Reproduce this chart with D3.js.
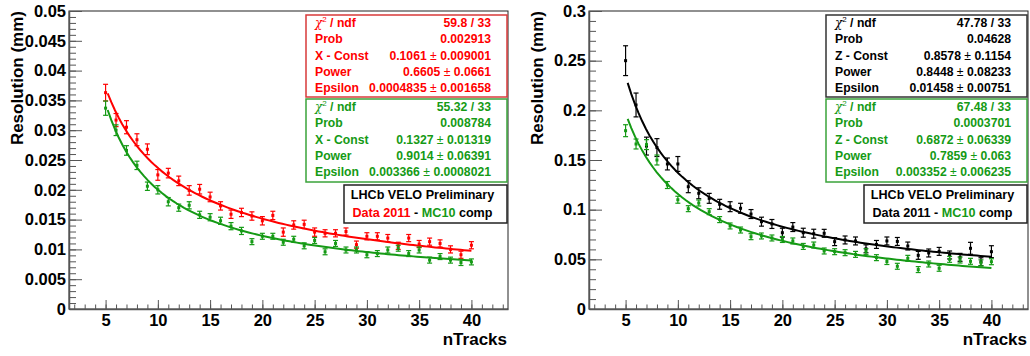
<!DOCTYPE html>
<html>
<head>
<meta charset="utf-8">
<script src="https://cdn.jsdelivr.net/npm/d3@7"></script>
<style>
  html, body { margin: 0; padding: 0; background: #fff; }
  svg { display: block; }
  text { font-family: "Liberation Sans", Arial, Helvetica, sans-serif; font-weight: bold; }
</style>
</head>
<body>
<svg id="chart" width="1030" height="356"></svg>
<script>
// Track multiplicity bins
const nTracks = [5, 6, 7, 8, 9, 10, 11, 12, 13, 14, 15, 16, 17, 18, 19, 20, 21, 22,
                 23, 24, 25, 26, 27, 28, 29, 30, 31, 32, 33, 34, 35, 36, 37, 38, 39, 40];

// X resolution (mm), Data 2011
const xResData = [0.0363, 0.0317, 0.0305, 0.0284, 0.0268, 0.0225, 0.0228, 0.0215, 0.0199, 0.0201,
                  0.0188, 0.0173, 0.0159, 0.0162, 0.0156, 0.0148, 0.0157, 0.0129, 0.0141, 0.0142,
                  0.0129, 0.0127, 0.0127, 0.0130, 0.0108, 0.0122, 0.0122, 0.0119, 0.0106, 0.0119,
                  0.0109, 0.0113, 0.0110, 0.0100, 0.0091, 0.0107];
const xResDataErr = [0.0014, 0.0011, 0.0011, 0.0010, 0.0009, 0.0009, 0.0008, 0.0008, 0.0008, 0.0008,
                     0.0008, 0.0007, 0.0007, 0.0007, 0.0007, 0.0007, 0.0007, 0.0007, 0.0007, 0.0007,
                     0.0007, 0.0006, 0.0006, 0.0006, 0.0006, 0.0006, 0.0006, 0.0006, 0.0006, 0.0006,
                     0.0006, 0.0006, 0.0006, 0.0006, 0.0006, 0.0006];
// X resolution (mm), MC10
const xResMC = [0.0337, 0.0300, 0.0266, 0.0241, 0.0206, 0.0200, 0.0180, 0.0170, 0.0174, 0.0158,
                0.0154, 0.0148, 0.0139, 0.0131, 0.0113, 0.0122, 0.0122, 0.0112, 0.0117, 0.0106,
                0.0115, 0.0096, 0.0110, 0.0099, 0.0099, 0.0091, 0.0093, 0.0099, 0.0102, 0.0093,
                0.0099, 0.0082, 0.0088, 0.0082, 0.0078, 0.0079];
const xResMCErr = [0.0012, 0.0009, 0.0008, 0.0007, 0.0007, 0.0007, 0.0007, 0.0006, 0.0006, 0.0006,
                   0.0006, 0.0006, 0.0006, 0.0006, 0.0005, 0.0005, 0.0005, 0.0005, 0.0005, 0.0005,
                   0.0005, 0.0005, 0.0005, 0.0005, 0.0005, 0.0005, 0.0005, 0.0005, 0.0005, 0.0005,
                   0.0005, 0.0005, 0.0005, 0.0005, 0.0005, 0.0005];

// Z resolution (mm), Data 2011
const zResData = [0.2500, 0.2054, 0.1640, 0.1625, 0.1460, 0.1460, 0.1231, 0.1165, 0.1114, 0.1054,
                  0.1030, 0.1014, 0.0956, 0.0879, 0.0856, 0.0768, 0.0825, 0.0768, 0.0758, 0.0762,
                  0.0678, 0.0695, 0.0685, 0.0606, 0.0650, 0.0685, 0.0680, 0.0634, 0.0540, 0.0564,
                  0.0580, 0.0544, 0.0520, 0.0611, 0.0476, 0.0577];
const zResDataErr = [0.0150, 0.0120, 0.0090, 0.0090, 0.0060, 0.0075, 0.0060, 0.0055, 0.0050, 0.0050,
                     0.0050, 0.0050, 0.0045, 0.0045, 0.0045, 0.0045, 0.0045, 0.0045, 0.0045, 0.0040,
                     0.0040, 0.0040, 0.0040, 0.0040, 0.0040, 0.0040, 0.0040, 0.0040, 0.0040, 0.0040,
                     0.0040, 0.0040, 0.0040, 0.0060, 0.0040, 0.0060];
// Z resolution (mm), MC10
const zResMC = [0.1795, 0.1661, 0.1655, 0.1500, 0.1248, 0.1100, 0.1010, 0.1067, 0.0980, 0.0900,
                0.0836, 0.0795, 0.0728, 0.0735, 0.0715, 0.0700, 0.0685, 0.0630, 0.0644, 0.0584,
                0.0577, 0.0567, 0.0550, 0.0577, 0.0517, 0.0478, 0.0430, 0.0510, 0.0397, 0.0453,
                0.0410, 0.0500, 0.0493, 0.0480, 0.0465, 0.0476];
const zResMCErr = [0.0060, 0.0050, 0.0050, 0.0050, 0.0035, 0.0035, 0.0030, 0.0030, 0.0030, 0.0030,
                   0.0030, 0.0030, 0.0030, 0.0030, 0.0030, 0.0030, 0.0030, 0.0030, 0.0030, 0.0030,
                   0.0030, 0.0030, 0.0030, 0.0030, 0.0030, 0.0030, 0.0030, 0.0030, 0.0030, 0.0030,
                   0.0030, 0.0030, 0.0030, 0.0030, 0.0030, 0.0030];

// Fit results: sigma(n) = Const / n^Power + Epsilon
const fitXData = [0.1061, 0.6605, 0.0004835];
const fitXDataErr = [0.009001, 0.0661, 0.001658];
const fitXDataChi2 = [59.8, 33], fitXDataProb = "0.002913";
const fitXMC = [0.1327, 0.9014, 0.003366];
const fitXMCErr = [0.01319, 0.06391, 0.0008021];
const fitXMCChi2 = [55.32, 33], fitXMCProb = "0.008784";
const fitZData = [0.8578, 0.8448, 0.01458];
const fitZDataErr = [0.1154, 0.08233, 0.00751];
const fitZDataChi2 = [47.78, 33], fitZDataProb = "0.04628";
const fitZMC = [0.6872, 0.7859, 0.003352];
const fitZMCErr = [0.06339, 0.063, 0.006235];
const fitZMCChi2 = [67.48, 33], fitZMCProb = "0.0003701";
const fitRange = [5.2, 40];

// Axis ticks
const xDomain = [1.5, 43.5];
const xMajorTicks = [5, 10, 15, 20, 25, 30, 35, 40];
const xMinorTicks = [2, 3, 4, 5, 6, 7, 8, 9, 10, 11, 12, 13, 14, 15, 16, 17, 18, 19, 20, 21, 22,
                     23, 24, 25, 26, 27, 28, 29, 30, 31, 32, 33, 34, 35, 36, 37, 38, 39, 40, 41, 42, 43];
const yTicksX = [0, 0.005, 0.01, 0.015, 0.02, 0.025, 0.03, 0.035, 0.04, 0.045, 0.05];
const yTickLabelsX = ["0", "0.005", "0.01", "0.015", "0.02", "0.025", "0.03", "0.035", "0.04", "0.045", "0.05"];
const yTicksZ = [0, 0.05, 0.1, 0.15, 0.2, 0.25, 0.3];
const yTickLabelsZ = ["0", "0.05", "0.1", "0.15", "0.2", "0.25", "0.3"];

const RED = "#ff0000";
const GREEN = "#159a15";
const BLACK = "#000000";

const svg = d3.select("#chart");

function fitFn(par) {
  return n => par[0] / Math.pow(n, par[1]) + par[2];
}

function drawPanel(opt) {
  const left = opt.left, right = opt.right, top = 11, bottom = 309;
  const x = d3.scaleLinear().domain(xDomain).range([left, right]);
  const y = d3.scaleLinear().domain([0, opt.yMax]).range([bottom, top]);
  const g = svg.append("g");

  // frame
  g.append("rect").attr("x", left).attr("y", top)
    .attr("width", right - left).attr("height", bottom - top)
    .attr("fill", "none").attr("stroke", "#222").attr("stroke-width", 1);

  // y axis: major + minor
  const yMinor = d3.range(0, opt.yMax + opt.yMinorStep / 2, opt.yMinorStep);
  g.append("g").attr("transform", `translate(${left},0)`)
    .call(d3.axisLeft(y).tickValues(yMinor).tickSize(-7).tickSizeOuter(0).tickFormat(""))
    .call(a => a.selectAll("line").attr("stroke", "#555"))
    .call(a => a.select(".domain").attr("stroke", "#555").attr("stroke-width", 1.5));
  g.append("g").attr("transform", `translate(${left},0)`)
    .call(d3.axisLeft(y).tickValues(opt.yTicks).tickSize(-13).tickSizeOuter(0).tickPadding(3)
      .tickFormat((d, i) => opt.yTickLabels[i]))
    .call(a => a.select(".domain").remove())
    .call(a => a.selectAll("line").attr("stroke", "#555"))
    .call(a => a.selectAll("text").attr("fill", "#000").attr("font-size", 16.5)
      .attr("font-family", "Liberation Sans, Arial, sans-serif").attr("font-weight", "bold"));

  // x axis: major + minor
  g.append("g").attr("transform", `translate(0,${bottom})`)
    .call(d3.axisBottom(x).tickValues(xMinorTicks).tickSize(-4.5).tickSizeOuter(0).tickFormat(""))
    .call(a => a.selectAll("line").attr("stroke", "#555"))
    .call(a => a.select(".domain").attr("stroke", "#555").attr("stroke-width", 1.5));
  g.append("g").attr("transform", `translate(0,${bottom})`)
    .call(d3.axisBottom(x).tickValues(xMajorTicks).tickSize(-9).tickSizeOuter(0).tickPadding(5.5))
    .call(a => a.select(".domain").remove())
    .call(a => a.selectAll("line").attr("stroke", "#555"))
    .call(a => a.selectAll("text").attr("fill", "#000").attr("font-size", 16.5)
      .attr("font-family", "Liberation Sans, Arial, sans-serif").attr("font-weight", "bold"));

  // axis titles
  g.append("text").attr("x", right - 1).attr("y", 345).attr("text-anchor", "end")
    .attr("font-size", 17).text("nTracks");
  g.append("text").attr("transform", `translate(${left - 46},${top}) rotate(-90)`)
    .attr("text-anchor", "end").attr("font-size", 17).text("Resolution (mm)");

  // series: fit curve, error bars, markers
  opt.series.forEach(s => {
    const f = fitFn(s.fit);
    const xs = d3.range(0, 101).map(i => fitRange[0] + (fitRange[1] - fitRange[0]) * i / 100);
    g.append("path").datum(xs)
      .attr("d", d3.line().x(n => x(n)).y(n => y(f(n))))
      .attr("fill", "none").attr("stroke", s.color).attr("stroke-width", 2);

    const pts = nTracks.map((n, i) => ({ n, v: s.values[i], e: s.errors[i] }));
    const pg = g.append("g").attr("stroke", s.color).attr("stroke-width", 1.2);
    pg.selectAll(".eb").data(pts).enter().append("line")
      .attr("x1", d => x(d.n)).attr("x2", d => x(d.n))
      .attr("y1", d => y(d.v - d.e)).attr("y2", d => y(d.v + d.e));
    pg.selectAll(".cap1").data(pts).enter().append("line")
      .attr("x1", d => x(d.n) - 2.5).attr("x2", d => x(d.n) + 2.5)
      .attr("y1", d => y(d.v + d.e)).attr("y2", d => y(d.v + d.e));
    pg.selectAll(".cap2").data(pts).enter().append("line")
      .attr("x1", d => x(d.n) - 2.5).attr("x2", d => x(d.n) + 2.5)
      .attr("y1", d => y(d.v - d.e)).attr("y2", d => y(d.v - d.e));
    g.append("g").selectAll("rect").data(pts).enter().append("rect")
      .attr("x", d => x(d.n) - 1.5).attr("y", d => y(d.v) - 1.5)
      .attr("width", 3).attr("height", 3).attr("fill", s.color);
  });

  // statistics boxes
  const boxL = right - 202, boxR = right - 1;
  opt.series.forEach((s, k) => {
    const by = k === 0 ? 15 : 99;
    const bh = k === 0 ? 82 : 83;
    const sb = g.append("g");
    sb.append("rect").attr("x", boxL).attr("y", by).attr("width", boxR - boxL).attr("height", bh)
      .attr("fill", "#fff").attr("stroke", s.boxColor).attr("stroke-width", 1.5);
    const rows = [
      { label: "chi", value: [String(s.chi2[0]) + " / " + String(s.chi2[1])] },
      { label: "Prob", value: [s.prob] },
      { label: opt.constName, value: [String(s.fit[0]), String(s.fitErr[0])] },
      { label: "Power", value: [String(s.fit[1]), String(s.fitErr[1])] },
      { label: "Epsilon", value: [String(s.fit[2]), String(s.fitErr[2])] }
    ];
    rows.forEach((r, i) => {
      const base = by + 12 + i * 16.3;
      const lt = sb.append("text").attr("x", boxL + 9).attr("y", base)
        .attr("font-size", 12.2).attr("fill", s.color);
      if (r.label === "chi") {
        lt.append("tspan").attr("font-weight", "normal").attr("font-family", "DejaVu Serif, serif")
          .attr("font-style", "italic").attr("font-size", 12).text("χ");
        lt.append("tspan").attr("font-weight", "normal").attr("font-size", 8).attr("dy", -5).text("2");
        lt.append("tspan").attr("dy", 5).text(" / ndf");
      } else {
        lt.text(r.label);
      }
      const vt = sb.append("text").attr("x", boxR - 16).attr("y", base)
        .attr("text-anchor", "end").attr("font-size", 12.2).attr("fill", s.color);
      vt.append("tspan").text(r.value[0]);
      if (r.value.length > 1) {
        vt.append("tspan").attr("font-weight", "normal").text(" ± ");
        vt.append("tspan").text(r.value[1]);
      }
    });
  });

  // legend box
  const lg = g.append("g");
  const lx0 = right - 164, lx1 = right - 1;
  lg.append("rect").attr("x", lx0).attr("y", 185).attr("width", lx1 - lx0).attr("height", 38)
    .attr("fill", "#fff").attr("stroke", "#222").attr("stroke-width", 1.5);
  const cx = (lx0 + lx1) / 2 - 3;
  lg.append("text").attr("x", cx).attr("y", 198.5).attr("text-anchor", "middle")
    .attr("font-size", 12.6).attr("fill", "#000").text("LHCb VELO Preliminary");
  const l2 = lg.append("text").attr("x", cx).attr("y", 216.5).attr("text-anchor", "middle")
    .attr("font-size", 12.6);
  opt.legendParts.forEach(p => l2.append("tspan").attr("fill", p[1]).text(p[0]));
}

drawPanel({
  left: 69, right: 508, yMax: 0.05, yMinorStep: 0.001,
  yTicks: yTicksX, yTickLabels: yTickLabelsX, constName: "X - Const",
  series: [
    { values: xResData, errors: xResDataErr, fit: fitXData, fitErr: fitXDataErr,
      chi2: fitXDataChi2, prob: fitXDataProb, color: RED, boxColor: "#d83a3a" },
    { values: xResMC, errors: xResMCErr, fit: fitXMC, fitErr: fitXMCErr,
      chi2: fitXMCChi2, prob: fitXMCProb, color: GREEN, boxColor: "#3aa33a" }
  ],
  legendParts: [["Data 2011", RED], [" - ", BLACK], ["MC10", GREEN], [" comp", BLACK]]
});

drawPanel({
  left: 589, right: 1028, yMax: 0.3, yMinorStep: 0.01,
  yTicks: yTicksZ, yTickLabels: yTickLabelsZ, constName: "Z - Const",
  series: [
    { values: zResData, errors: zResDataErr, fit: fitZData, fitErr: fitZDataErr,
      chi2: fitZDataChi2, prob: fitZDataProb, color: BLACK, boxColor: "#333" },
    { values: zResMC, errors: zResMCErr, fit: fitZMC, fitErr: fitZMCErr,
      chi2: fitZMCChi2, prob: fitZMCProb, color: GREEN, boxColor: "#3aa33a" }
  ],
  legendParts: [["Data 2011 - ", BLACK], ["MC10", GREEN], [" comp", BLACK]]
});
</script>
</body>
</html>
